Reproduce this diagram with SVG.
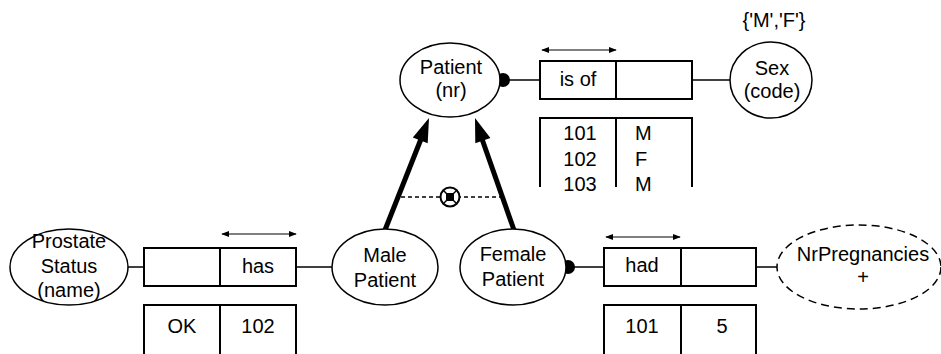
<svg xmlns="http://www.w3.org/2000/svg" width="941" height="354" viewBox="0 0 941 354">
<style>
text{font-family:"Liberation Sans",Arial,sans-serif;font-size:20px;fill:#000}
.m{text-anchor:middle}
.e{fill:#fff;stroke:#000;stroke-width:1.5}
.b{fill:#fff;stroke:#000;stroke-width:2}
.l{fill:none;stroke:#000;stroke-width:1.5}
.t{fill:none;stroke:#000;stroke-width:2}
.s{fill:none;stroke:#000;stroke-width:5}
.a{fill:none;stroke:#000;stroke-width:1}
</style>
<defs>
<marker id="ah" viewBox="0 0 10 10" refX="9" refY="5" markerWidth="8" markerHeight="8" orient="auto-start-reverse" markerUnits="userSpaceOnUse"><path d="M0,1 L10,5 L0,9 Z" fill="#000"/></marker>
</defs>
<g id="connectors">
<line class="l" x1="503" y1="80" x2="540" y2="80"/>
<line class="l" x1="692" y1="80" x2="730" y2="80"/>
<line class="l" x1="128" y1="267" x2="144" y2="267"/>
<line class="l" x1="296" y1="267" x2="332" y2="267"/>
<line class="l" x1="568" y1="267" x2="604" y2="267"/>
<line class="l" x1="756" y1="267" x2="777" y2="267"/>
<line class="s" x1="385" y1="230" x2="421" y2="139"/>
<polygon points="429,118 427.7,143.3 412.8,137.4" fill="#000"/>
<line class="s" x1="514" y1="230" x2="482" y2="139"/>
<polygon points="475,118 490.4,138.1 475.3,143.3" fill="#000"/>
<line x1="401" y1="197" x2="500" y2="197" stroke="#000" stroke-width="1.5" stroke-dasharray="4,3"/>
<circle cx="503" cy="80" r="7" fill="#000"/>
<circle cx="568" cy="267" r="7" fill="#000"/>
</g>
<g id="exclusion">
<circle cx="450" cy="197" r="9.5" fill="#fff" stroke="#000" stroke-width="2"/>
<line x1="443.5" y1="190.5" x2="456.5" y2="203.5" stroke="#000" stroke-width="1.5"/>
<line x1="456.5" y1="190.5" x2="443.5" y2="203.5" stroke="#000" stroke-width="1.5"/>
<rect x="446" y="193" width="8" height="8" fill="#000"/>
</g>
<g id="patient"><ellipse class="e" cx="450" cy="80" rx="50" ry="37"/><text class="m" x="451" y="74">Patient</text><text class="m" x="451" y="97">(nr)</text></g>
<g id="sex"><ellipse class="e" cx="771" cy="80" rx="41" ry="38"/><text class="m" x="772" y="75">Sex</text><text class="m" x="772" y="98">(code)</text><text class="m" x="774" y="27">{'M','F'}</text></g>
<g id="isof">
<line class="a" x1="542" y1="50" x2="616" y2="50" marker-start="url(#ah)" marker-end="url(#ah)"/>
<rect class="b" x="540" y="61" width="152" height="38"/><line class="t" x1="616" y1="61" x2="616" y2="99"/>
<text class="m" x="578" y="86">is of</text>
<path class="t" d="M540,187 V118 H692 V187 M616,118 V187"/>
<text class="m" x="580" y="140">101</text><text x="635" y="140">M</text>
<text class="m" x="580" y="166">102</text><text x="635" y="166">F</text>
<text class="m" x="580" y="191">103</text><text x="635" y="191">M</text>
</g>
<g id="prostate"><ellipse class="e" cx="69" cy="267" rx="59" ry="38"/><text class="m" x="69" y="248">Prostate</text><text class="m" x="69" y="273">Status</text><text class="m" x="69" y="297">(name)</text></g>
<g id="has">
<line class="a" x1="222" y1="234" x2="296" y2="234" marker-start="url(#ah)" marker-end="url(#ah)"/>
<rect class="b" x="144" y="248" width="152" height="38"/><line class="t" x1="220" y1="248" x2="220" y2="286"/>
<text class="m" x="258" y="273">has</text>
<path class="t" d="M144,354 V305 H296 V354 M220,305 V354"/>
<text class="m" x="182" y="333">OK</text><text class="m" x="258" y="333">102</text>
</g>
<g id="male"><ellipse class="e" cx="385" cy="267" rx="53" ry="38"/><text class="m" x="385" y="262">Male</text><text class="m" x="385" y="287">Patient</text></g>
<g id="female"><ellipse class="e" cx="513" cy="267" rx="53" ry="38"/><text class="m" x="513" y="261">Female</text><text class="m" x="513" y="286">Patient</text></g>
<g id="had">
<line class="a" x1="606" y1="237" x2="680" y2="237" marker-start="url(#ah)" marker-end="url(#ah)"/>
<rect class="b" x="604" y="248" width="152" height="38"/><line class="t" x1="681" y1="248" x2="681" y2="286"/>
<text class="m" x="642" y="272">had</text>
<path class="t" d="M604,354 V305 H756 V354 M681,305 V354"/>
<text class="m" x="642" y="333">101</text><text class="m" x="722" y="333">5</text>
</g>
<g id="nrpregnancies"><ellipse cx="859" cy="267" rx="82" ry="42" fill="#fff" stroke="#000" stroke-width="1.5" stroke-dasharray="8,5"/><text class="m" x="863" y="261">NrPregnancies</text><text class="m" x="863" y="284">+</text></g>
</svg>
